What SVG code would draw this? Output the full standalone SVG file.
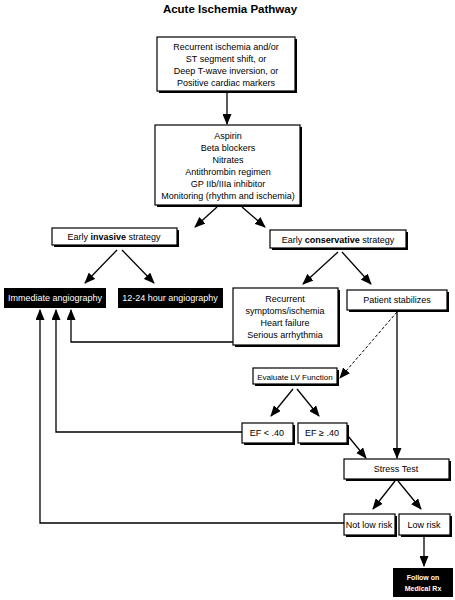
<svg xmlns="http://www.w3.org/2000/svg" width="455" height="600" viewBox="0 0 455 600">
<defs>
<marker id="ah" markerUnits="userSpaceOnUse" markerWidth="11" markerHeight="9" refX="10" refY="4.5" orient="auto">
<path d="M0,0 L11,4.5 L0,9 z" fill="#000"/>
</marker>
</defs>
<style>
.sh{fill:#000}
.bx{fill:#fff;stroke:#000;stroke-width:1.2}
.bk{fill:#000}
.t{font-family:"Liberation Sans",Arial,sans-serif;font-size:9px;fill:#000;text-anchor:middle}
.w{fill:#fff}
.c{fill:none;stroke:#000;stroke-width:1.3}
.a{marker-end:url(#ah)}
.d{stroke-dasharray:3,2;stroke-width:1}
</style>
<rect width="455" height="600" fill="#fff"/>
<text x="230" y="13" class="t" style="font-size:11.5px;font-weight:bold">Acute Ischemia Pathway</text>

<g id="connectors">
<path class="c a" d="M227,91 L227,124"/>
<path class="c a" d="M217,207 L195,227"/>
<path class="c a" d="M242,207 L265,227"/>
<path class="c a" d="M117,250 L85,283"/>
<path class="c a" d="M122,250 L154,283"/>
<path class="c a" d="M338,252 L303,284"/>
<path class="c a" d="M342,252 L371,284"/>
<path class="c a" d="M233,342 L71,342 L71,310"/>
<path class="c a" d="M242,432 L56,432 L56,310"/>
<path class="c a" d="M344,523 L40,523 L40,310"/>
<path class="c a d" d="M397,312 L340,378"/>
<path class="c a" d="M397,312 L397,458"/>
<path class="c a" d="M293,389 L271,416"/>
<path class="c a" d="M297,389 L319,416"/>
<path class="c a" d="M348,436 L366,458"/>
<path class="c a" d="M395,481 L373,509"/>
<path class="c a" d="M398,481 L421,509"/>
<path class="c a" d="M424,536 L424,566"/>
</g>

<g id="n1">
<rect class="sh" x="159" y="39" width="138" height="54"/>
<rect class="bx" x="157" y="37" width="138" height="54"/>
<text class="t" x="226" y="50">Recurrent ischemia and/or</text>
<text class="t" x="226" y="62">ST segment shift, or</text>
<text class="t" x="226" y="74">Deep T-wave inversion, or</text>
<text class="t" x="226" y="86">Positive cardiac markers</text>
</g>

<g id="n2">
<rect class="sh" x="157" y="127" width="145" height="80"/>
<rect class="bx" x="155" y="125" width="145" height="80"/>
<text class="t" x="228" y="139">Aspirin</text>
<text class="t" x="228" y="151">Beta blockers</text>
<text class="t" x="228" y="163">Nitrates</text>
<text class="t" x="228" y="175">Antithrombin regimen</text>
<text class="t" x="228" y="187">GP IIb/IIIa inhibitor</text>
<text class="t" x="228" y="199">Monitoring (rhythm and ischemia)</text>
</g>

<g id="n3">
<rect class="sh" x="54" y="230" width="125" height="17"/>
<rect class="bx" x="52" y="228" width="125" height="17"/>
<text class="t" x="114" y="240">Early <tspan font-weight="bold">invasive</tspan> strategy</text>
</g>

<g id="n4">
<rect class="sh" x="272" y="232" width="136" height="18"/>
<rect class="bx" x="270" y="230" width="136" height="18"/>
<text class="t" x="338" y="243">Early <tspan font-weight="bold">conservative</tspan> strategy</text>
</g>

<g id="n5">
<rect class="bk" x="4" y="288" width="102" height="20"/>
<text class="t w" x="55" y="301">Immediate angiography</text>
</g>

<g id="n6">
<rect class="bk" x="118" y="288" width="105" height="20"/>
<text class="t w" x="170" y="301">12-24 hour angiography</text>
</g>

<g id="n7">
<rect class="sh" x="235" y="290" width="105" height="57"/>
<rect class="bx" x="233" y="288" width="105" height="57"/>
<text class="t" x="285" y="302">Recurrent</text>
<text class="t" x="285" y="314">symptoms/ischemia</text>
<text class="t" x="285" y="326">Heart failure</text>
<text class="t" x="285" y="338">Serious arrhythmia</text>
</g>

<g id="n8">
<rect class="sh" x="349" y="292" width="100" height="20"/>
<rect class="bx" x="347" y="290" width="100" height="20"/>
<text class="t" x="397" y="303">Patient stabilizes</text>
</g>

<g id="n9">
<rect class="sh" x="255" y="370" width="84" height="16"/>
<rect class="bx" x="253" y="368" width="84" height="16"/>
<text class="t" x="295" y="379.5" style="font-size:8px">Evaluate LV Function</text>
</g>

<g id="n10">
<rect class="sh" x="244" y="425" width="51" height="20"/>
<rect class="bx" x="242" y="423" width="51" height="20"/>
<text class="t" x="267" y="436">EF &lt; .40</text>
</g>

<g id="n11">
<rect class="sh" x="300" y="425" width="49" height="20"/>
<rect class="bx" x="298" y="423" width="49" height="20"/>
<text class="t" x="322" y="436">EF ≥ .40</text>
</g>

<g id="n12">
<rect class="sh" x="346" y="461" width="105" height="20"/>
<rect class="bx" x="344" y="459" width="105" height="20"/>
<text class="t" x="396" y="472">Stress Test</text>
</g>

<g id="n13">
<rect class="sh" x="346" y="516" width="51" height="21"/>
<rect class="bx" x="344" y="514" width="51" height="21"/>
<text class="t" x="369" y="528">Not low risk</text>
</g>

<g id="n14">
<rect class="sh" x="401" y="516" width="51" height="21"/>
<rect class="bx" x="399" y="514" width="51" height="21"/>
<text class="t" x="424" y="528">Low risk</text>
</g>

<g id="n15">
<rect class="bk" x="393" y="568" width="60" height="29"/>
<text class="t w" x="423" y="580" style="font-size:7px;font-weight:bold">Follow on</text>
<text class="t w" x="423" y="591" style="font-size:7px;font-weight:bold">Medical Rx</text>
</g>
</svg>
